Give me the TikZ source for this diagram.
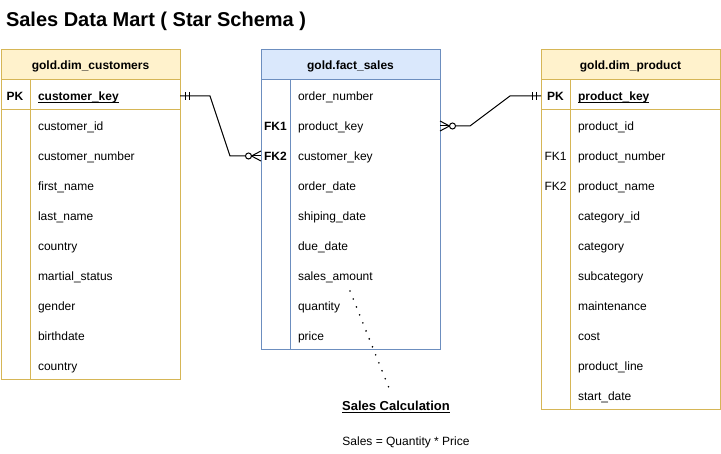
\documentclass[tikz,border=0pt]{standalone}
\usepackage{fontspec}
\setmainfont{Liberation Sans}
\usetikzlibrary{calc}
\definecolor{yfill}{HTML}{FFF2CC}
\definecolor{ydraw}{HTML}{D6B656}
\definecolor{bfill}{HTML}{DAE8FC}
\definecolor{bdraw}{HTML}{6C8EBF}
\begin{document}
\begin{tikzpicture}[x=1pt,y=-1pt,
  every node/.style={inner sep=0pt, outer sep=0pt},
  fld/.style={anchor=base west, font=\fontsize{12}{14}\selectfont},
  keyb/.style={anchor=base, font=\fontsize{12}{14}\selectfont\bfseries},
  keyn/.style={anchor=base, font=\fontsize{12}{14}\selectfont},
  hdr/.style={anchor=base, font=\fontsize{12}{14}\selectfont\bfseries},
  ybox/.style={draw=ydraw, line width=1pt, rectangle, minimum width=179pt},
  bbox/.style={draw=bdraw, line width=1pt, rectangle, minimum width=179pt},
  yline/.style={draw=ydraw, line width=1pt},
  bline/.style={draw=bdraw, line width=1pt},
  conn/.style={draw=black, line width=1pt},
]
\useasboundingbox (0,0) rectangle (721,454);

% title
\node[anchor=base west, font=\fontsize{20}{24}\selectfont\bfseries] (title) at (6,26.5) {Sales Data Mart ( Star Schema )};

% ---------- left table ----------
\node[ybox, fill=yfill, minimum height=30pt] (lh) at (90.5,65) {};
\node[ybox, fill=white, minimum height=300pt] (lb) at (90.5,230) {};
\draw[yline] ($(lb.north west)+(0,30)$) -- ($(lb.north east)+(0,30)$);
\draw[yline] ($(lb.north west)+(29,0)$) -- ($(lb.south west)+(29,0)$);
\node[hdr] (lht) at (90.5,70) {gold.dim\_customers};
\foreach \i in {0,...,9} { \coordinate (Lrow\i) at (0,96+30*\i); }
\node[keyb] (lpk) at ($(Lrow0)+(15,5)$) {PK};
\node[fld, font=\fontsize{12}{14}\selectfont\bfseries] (lf0) at ($(Lrow0)+(38,5)$) {\underline{\smash{customer\_key}}};
\foreach \t [count=\i] in {customer\_id,customer\_number,first\_name,last\_name,country,martial\_status,gender,birthdate,country}
  { \node[fld] (lf\i) at ($(Lrow\i)+(38,5)$) {\t}; }

% ---------- middle table ----------
\node[bbox, fill=bfill, minimum height=30pt] (mh) at (350.5,65) {};
\node[bbox, fill=white, minimum height=270pt] (mb) at (350.5,215) {};
\draw[bline] ($(mb.north west)+(29,0)$) -- ($(mb.south west)+(29,0)$);
\node[hdr] (mht) at (350.5,70) {gold.fact\_sales};
\foreach \i in {0,...,8} { \coordinate (Mrow\i) at (0,96+30*\i); }
\node[keyb] (mfk1) at ($(Mrow1)+(275.5,5)$) {FK1};
\node[keyb] (mfk2) at ($(Mrow2)+(275.5,5)$) {FK2};
\foreach \t [count=\i from 0] in {order\_number,product\_key,customer\_key,order\_date,shiping\_date,due\_date,sales\_amount,quantity,price}
  { \node[fld] (mf\i) at ($(Mrow\i)+(298,5)$) {\t}; }

% ---------- right table ----------
\node[ybox, fill=yfill, minimum height=30pt] (rh) at (630.5,65) {};
\node[ybox, fill=white, minimum height=330pt] (rb) at (630.5,245) {};
\draw[yline] ($(rb.north west)+(0,30)$) -- ($(rb.north east)+(0,30)$);
\draw[yline] ($(rb.north west)+(29,0)$) -- ($(rb.south west)+(29,0)$);
\node[hdr] (rht) at (630.5,70) {gold.dim\_product};
\foreach \i in {0,...,10} { \coordinate (Rrow\i) at (0,96+30*\i); }
\node[keyb] (rpk) at ($(Rrow0)+(555.5,5)$) {PK};
\node[keyn] (rfk1) at ($(Rrow2)+(555.5,5)$) {FK1};
\node[keyn] (rfk2) at ($(Rrow3)+(555.5,5)$) {FK2};
\node[fld, font=\fontsize{12}{14}\selectfont\bfseries] (rf0) at ($(Rrow0)+(578,5)$) {\underline{\smash{product\_key}}};
\foreach \t [count=\i] in {product\_id,product\_number,product\_name,category\_id,category,subcategory,maintenance,cost,product\_line,start\_date}
  { \node[fld] (rf\i) at ($(Rrow\i)+(578,5)$) {\t}; }

% ---------- connector: customers -> fact ----------
\coordinate (c1a) at (lb.east |- Lrow0);
\coordinate (c1b) at (mb.west |- Mrow2);
\draw[conn] (c1a) -- ++(30,0) -- ($(c1b)+(-31,0)$) -- ($(c1b)+(-15.5,0)$);
\draw[conn] ($(c1a)+(5,-4)$) -- ($(c1a)+(5,4)$);
\draw[conn] ($(c1a)+(9,-4)$) -- ($(c1a)+(9,4)$);
\draw[conn, fill=white] ($(c1b)+(-12.5,0)$) circle (3pt);
\draw[conn] ($(c1b)+(0,-5)$) -- ($(c1b)+(-9.5,0)$) -- ($(c1b)+(0,5)$);
\draw[conn] ($(c1b)+(-9.5,0)$) -- (c1b);

% ---------- connector: fact -> product ----------
\coordinate (c2a) at (mb.east |- Mrow1);
\coordinate (c2b) at (rb.west |- Rrow0);
\draw[conn] ($(c2a)+(0,-5)$) -- ($(c2a)+(9.5,0)$) -- ($(c2a)+(0,5)$);
\draw[conn] (c2a) -- ($(c2a)+(9.5,0)$);
\draw[conn, fill=white] ($(c2a)+(12.5,0)$) circle (3pt);
\draw[conn] ($(c2a)+(15.5,0)$) -- ($(c2a)+(30,0)$) -- ($(c2b)+(-31,0)$) -- (c2b);
\draw[conn] ($(c2b)+(-9,-4)$) -- ($(c2b)+(-9,4)$);
\draw[conn] ($(c2b)+(-5,-4)$) -- ($(c2b)+(-5,4)$);

% ---------- note ----------
\node[anchor=base, font=\fontsize{13}{15}\selectfont\bfseries] (sc) at (396,410.5) {\underline{\smash{Sales Calculation}}};
\node[anchor=base, font=\fontsize{12}{14}\selectfont] (sf) at (406,446) {Sales = Quantity * Price};
\coordinate (d1) at (350,291);
\coordinate (d2) at (389,388);
\draw[line width=1.8pt, line cap=round, dash pattern=on 0pt off 8.6pt] (d1) -- (d2);
\end{tikzpicture}
\end{document}
